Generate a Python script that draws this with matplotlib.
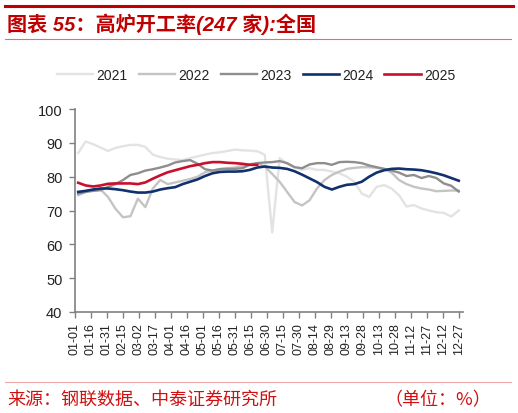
import matplotlib
matplotlib.use('Agg')
import matplotlib.pyplot as plt
import numpy as np

plt.rcParams['font.family'] = ['Liberation Sans', 'Noto Sans CJK SC', 'DejaVu Sans']

# weekly readings, one per week starting early January (day-of-year offsets)
week_days = np.arange(52) * 7 + 3

y2021 = [87.0, 90.4, 89.6, 88.6, 87.6, 88.5, 89.0, 89.4, 89.4, 88.8,
         86.5, 85.8, 85.3, 85.1, 84.9, 85.5, 86.0, 86.5, 87.0, 87.2,
         87.6, 88.0, 87.8, 87.7, 87.5, 86.5, 63.5, 85.5, 83.8, 82.8,
         82.0, 82.5, 82.0, 82.0, 81.5, 81.0, 80.0, 78.5, 75.0, 74.0,
         77.0, 77.5, 76.5, 74.5, 71.2, 71.6, 70.6, 70.0, 69.5, 69.3,
         68.2, 70.0]
y2022 = [74.5, 75.5, 76.2, 76.2, 74.0, 70.5, 68.0, 68.3, 73.5, 71.0,
         76.5, 79.0, 77.8, 78.3, 78.8, 79.3, 80.0, 81.3, 81.8, 82.3,
         82.5, 82.7, 83.2, 83.7, 84.0, 83.0, 80.8, 78.5, 75.5, 72.5,
         71.5, 73.0, 76.5, 79.0, 80.5, 81.5, 82.3, 82.6, 82.8, 82.8,
         82.6, 82.3, 81.2, 79.0, 77.8, 77.0, 76.5, 76.2, 75.7, 75.8,
         75.9, 75.9]
y2023 = [75.0, 75.5, 75.8, 76.0, 77.0, 77.8, 79.0, 80.5, 81.0, 81.8,
         82.2, 82.7, 83.3, 84.2, 84.6, 84.9, 83.8, 82.2, 81.8, 82.2,
         82.3, 82.3, 82.5, 83.5, 84.0, 84.2, 84.3, 84.6, 84.0, 82.8,
         82.5, 83.6, 84.0, 84.0, 83.5, 84.3, 84.4, 84.3, 84.0, 83.3,
         82.8, 82.3, 81.8, 81.2, 80.2, 80.5, 79.6, 80.2, 79.6, 78.0,
         77.3, 75.6]
y2024 = [75.5, 75.8, 76.2, 76.5, 76.5, 76.3, 76.0, 75.6, 75.3, 75.3,
         75.6, 76.2, 76.6, 76.9, 77.8, 78.5, 79.2, 80.2, 81.0, 81.4,
         81.5, 81.5, 81.6, 82.0, 82.7, 83.0, 82.7, 82.6, 82.3, 81.6,
         80.6, 79.5, 78.4, 77.0, 76.2, 77.0, 77.6, 77.8, 78.5, 80.0,
         81.2, 81.9, 82.3, 82.4, 82.2, 82.1, 81.9, 81.5, 81.0, 80.4,
         79.6, 78.8]
y2025 = [78.2, 77.4, 77.1, 77.4, 77.9, 78.0, 78.0, 78.0, 77.8, 78.3,
         79.4, 80.4, 81.3, 81.9, 82.5, 83.1, 83.5, 84.0, 84.3, 84.3,
         84.1, 84.0, 83.8, 83.5, 83.5]

tick_labels = ['01-01', '01-16', '01-31', '02-15', '03-02', '03-17', '04-01',
               '04-16', '05-01', '05-16', '05-31', '06-15', '06-30', '07-15',
               '07-30', '08-14', '08-29', '09-13', '09-28', '10-13', '10-28',
               '11-12', '11-27', '12-12', '12-27']
tick_days = np.arange(len(tick_labels)) * 15

series = [('2021', y2021, '#e3e3e3', 1.7),
          ('2022', y2022, '#c4c4c4', 1.7),
          ('2023', y2023, '#8e8e8e', 1.7),
          ('2024', y2024, '#10306e', 1.9),
          ('2025', y2025, '#c8102e', 1.9)]

fig = plt.figure(figsize=(5.18, 4.14), dpi=100)
ax = fig.add_axes([75 / 518, 1 - 313 / 414, 388 / 518, 203 / 414])

for name, vals, col, lw in series:
    ax.plot(week_days[:len(vals)], vals, color=col, lw=lw, label=name)

ax.set_xlim(0, 364)
ax.set_ylim(40, 100)
ax.set_yticks(np.arange(40, 101, 10))
ax.set_xticks(tick_days)
ax.set_xticklabels(tick_labels, rotation=90, fontsize=9, color='#222222')
ax.tick_params(axis='y', labelsize=10.5, colors='#808080', labelcolor='#222222',
               length=4, width=1, pad=5)
ax.tick_params(axis='x', colors='#808080', labelcolor='#222222', length=4, width=1)
for s in ['top', 'right']:
    ax.spines[s].set_visible(False)
for s in ['left', 'bottom']:
    ax.spines[s].set_color('#808080')
    ax.spines[s].set_linewidth(1.2)

fig.legend(loc='center', bbox_to_anchor=(256 / 518, 1 - 76 / 414), ncol=5,
           frameon=False, fontsize=10, handlelength=2.65, handletextpad=0.2,
           columnspacing=0.8, labelcolor='#222222')

# header / footer decoration
fig.add_artist(plt.Line2D([5 / 518, 513 / 518], [1 - 6.5 / 414] * 2,
                          color='#c00000', lw=2.2))
fig.add_artist(plt.Line2D([5 / 518, 511 / 518], [1 - 40 / 414] * 2,
                          color='#e07070', lw=0.8))
fig.add_artist(plt.Line2D([5 / 518, 511 / 518], [1 - 383 / 414] * 2,
                          color='#f0a8a8', lw=0.8))

fig.text(7 / 518, 1 - 24.5 / 414, '图表 55：高炉开工率(247 家):全国', color='#c00000',
         fontsize=14.5, fontweight='bold', style='italic', va='center', ha='left')
fig.text(7 / 518, 1 - 400 / 414, '来源：钢联数据、中泰证券研究所', color='#d01010',
         fontsize=13, va='center', ha='left', family=['Noto Sans CJK SC'])
fig.text(491 / 518, 1 - 400 / 414, '（单位：%）', color='#d01010',
         fontsize=13, va='center', ha='right', family=['Noto Sans CJK SC'])

fig.savefig('out.png', dpi=100)
